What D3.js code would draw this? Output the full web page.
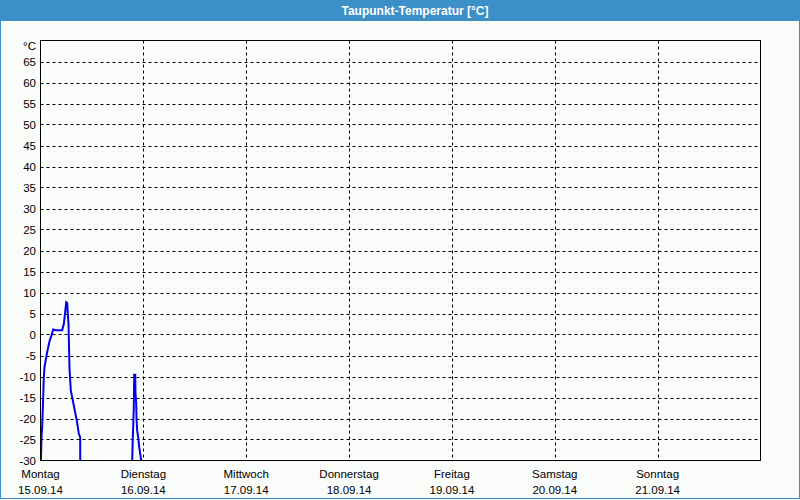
<!DOCTYPE html>
<html><head><meta charset="utf-8">
<script src="https://cdn.jsdelivr.net/npm/d3@7"></script>
<style>
html,body{margin:0;padding:0;background:#fff;}
svg{display:block;}
text{font-family:"Liberation Sans","DejaVu Sans",sans-serif;}
</style></head>
<body>
<svg id="c" width="800" height="500"></svg>
<script>
const title = "Taupunkt-Temperatur [°C]";
const unitLabel = "°C";
const dayNames = ["Montag","Dienstag","Mittwoch","Donnerstag","Freitag","Samstag","Sonntag"];
const dayDates = ["15.09.14","16.09.14","17.09.14","18.09.14","19.09.14","20.09.14","21.09.14"];
const yTicks = [-30,-25,-20,-15,-10,-5,0,5,10,15,20,25,30,35,40,45,50,55,60,65];
// hours since Monday 00:00
const seg1Hours = [0.1,0.23,0.4,0.63,0.77,0.93,1.4,1.8,2.17,2.57,2.96,3.66,5.06,5.44,5.67,6.0,6.23,6.37,6.53,6.77,7.07,7.54,8.0,8.47,8.94,9.26,9.27];
const seg1Values = [-30,-24.5,-21.7,-14.9,-10.2,-7.8,-5,-3,-1.4,-0.2,1.2,1.0,1.0,2.5,4.5,7.7,7.5,5,2.6,-8.1,-13.3,-15.7,-18.1,-20.5,-23.6,-24.5,-30];
const seg2Hours = [21.4,21.54,21.77,21.86,22.1,22.17,22.33,22.4,22.56,22.8,23.03,23.33,23.5];
const seg2Values = [-30,-24.5,-17.4,-9.6,-9.6,-14.1,-16.4,-20,-22.9,-24.5,-26.8,-28.8,-30];

(function(){
const svg = d3.select("#c");
const W = 800, H = 500;
const pL = 40.5, pR = 760.5, pT = 40.5, pB = 460.5;

svg.append("rect").attr("x",0).attr("y",0).attr("width",W).attr("height",H).attr("fill","#fafcf9");
svg.append("rect").attr("x",0.5).attr("y",0.5).attr("width",W-1).attr("height",H-2).attr("fill","none").attr("stroke","#3c90c8");
svg.append("rect").attr("x",0).attr("y",0).attr("width",W).attr("height",21).attr("fill","#3c90c8");
svg.append("text").attr("x",415).attr("y",15).attr("text-anchor","middle").attr("fill","#fff")
  .attr("font-size",12).attr("font-weight","bold").text(title);

const x = d3.scaleLinear().domain([0, 7*24]).range([pL, pR]);
const y = d3.scaleLinear().domain([-30, 70]).range([pB, pT]);

const g = svg.append("g");
g.selectAll("line.h").data(yTicks.filter(v=>v>-30)).join("line")
  .attr("x1",pL).attr("x2",pR).attr("y1",d=>Math.round(y(d))+0.5).attr("y2",d=>Math.round(y(d))+0.5)
  .attr("stroke","#000").attr("stroke-dasharray","3,3");
g.selectAll("line.v").data(d3.range(1,7)).join("line")
  .attr("x1",d=>Math.round(x(d*24))+0.5).attr("x2",d=>Math.round(x(d*24))+0.5).attr("y1",pT).attr("y2",pB)
  .attr("stroke","#000").attr("stroke-dasharray","3,3");

g.selectAll("text.y").data(yTicks).join("text")
  .attr("x",36).attr("y",d=>y(d)+4).attr("text-anchor","end").attr("font-size",11.5).attr("fill","#000").text(d=>d);
g.append("text").attr("x",36).attr("y",50).attr("text-anchor","end").attr("font-size",11.5).text(unitLabel);

g.selectAll("text.d").data(dayNames).join("text")
  .attr("x",(d,i)=>x(i*24)).attr("y",478).attr("text-anchor","middle").attr("font-size",11.5).text(d=>d);
g.selectAll("text.dt").data(dayDates).join("text")
  .attr("x",(d,i)=>x(i*24)).attr("y",494).attr("text-anchor","middle").attr("font-size",11.5).text(d=>d);

svg.append("clipPath").attr("id","clip").append("rect").attr("x",pL).attr("y",pT).attr("width",pR-pL).attr("height",pB-pT);
const line = d3.line().x(d=>x(d[0])).y(d=>y(d[1]));
[[seg1Hours,seg1Values],[seg2Hours,seg2Values]].forEach(([h,v])=>{
  svg.append("path").datum(h.map((t,i)=>[t,v[i]])).attr("d",line)
    .attr("fill","none").attr("stroke","#0000ee").attr("stroke-width",2).attr("clip-path","url(#clip)");
});

svg.append("rect").attr("x",pL).attr("y",pT).attr("width",pR-pL).attr("height",pB-pT)
  .attr("fill","none").attr("stroke","#000");
})();
</script>
</body></html>
